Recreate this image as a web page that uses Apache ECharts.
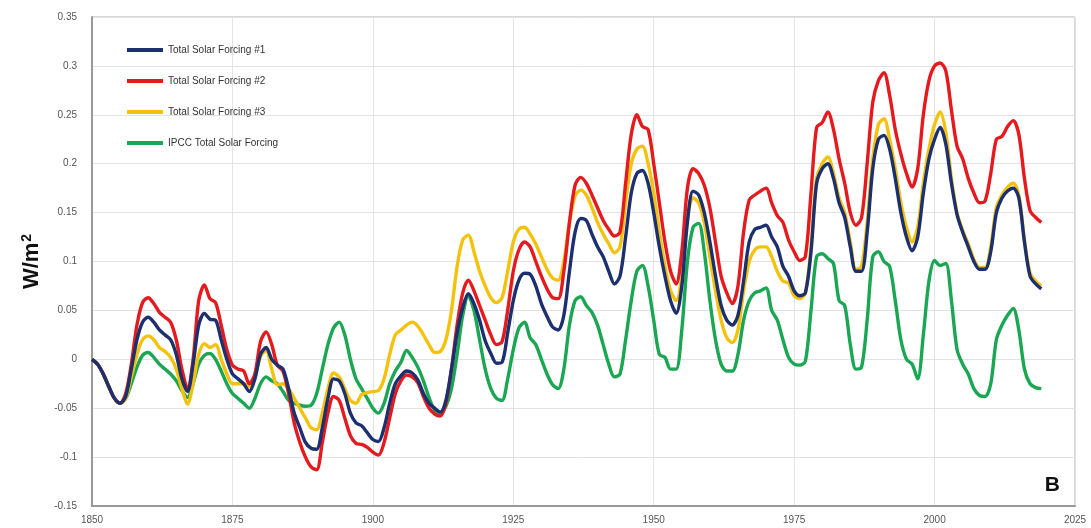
<!DOCTYPE html>
<html>
<head>
<meta charset="utf-8">
<script src="https://cdn.jsdelivr.net/npm/echarts@6/dist/echarts.min.js"></script>
<style>
  html, body { margin: 0; padding: 0; background: #fff; }
  #chart { width: 1091px; height: 528px; }
</style>
</head>
<body>
<div id="chart"></div>
<script>
// annual values 1850 .. 2019 (W/m2)
const startYear = 1850

const tsf1 = [
  0.000, -0.005, -0.015, -0.028, -0.040, -0.045, -0.038, -0.010, 0.020, 0.038,
  0.043, 0.038, 0.030, 0.025, 0.020, 0.005, -0.020, -0.033, -0.005, 0.035,
  0.047, 0.041, 0.040, 0.020, 0.000, -0.015, -0.020, -0.025, -0.033, -0.020,
  0.005, 0.012, 0.000, -0.006, -0.010, -0.030, -0.055, -0.070, -0.085, -0.091,
  -0.092, -0.070, -0.040, -0.020, -0.022, -0.035, -0.055, -0.065, -0.068, -0.075,
  -0.082, -0.084, -0.070, -0.045, -0.025, -0.017, -0.012, -0.014, -0.021, -0.035,
  -0.045, -0.050, -0.054, -0.042, -0.010, 0.027, 0.053, 0.067, 0.057, 0.040,
  0.019, 0.006, -0.004, -0.003, 0.027, 0.060, 0.081, 0.088, 0.087, 0.075,
  0.057, 0.044, 0.033, 0.030, 0.045, 0.090, 0.130, 0.144, 0.142, 0.128,
  0.115, 0.105, 0.090, 0.077, 0.085, 0.125, 0.170, 0.190, 0.193, 0.180,
  0.150, 0.115, 0.085, 0.060, 0.047, 0.075, 0.140, 0.172, 0.168, 0.150,
  0.120, 0.085, 0.055, 0.040, 0.035, 0.045, 0.080, 0.120, 0.133, 0.135,
  0.137, 0.125, 0.115, 0.095, 0.085, 0.070, 0.065, 0.068, 0.110, 0.180,
  0.195, 0.200, 0.185, 0.160, 0.145, 0.115, 0.090, 0.090, 0.130, 0.195,
  0.225, 0.229, 0.215, 0.185, 0.150, 0.125, 0.111, 0.125, 0.170, 0.205,
  0.225, 0.237, 0.220, 0.180, 0.148, 0.130, 0.115, 0.100, 0.092, 0.092,
  0.110, 0.150, 0.165, 0.172, 0.175, 0.165, 0.120, 0.085, 0.077, 0.072
]

const tsf2 = [
  0.000, -0.005, -0.015, -0.028, -0.040, -0.045, -0.035, -0.005, 0.035, 0.058,
  0.063, 0.057, 0.048, 0.043, 0.038, 0.020, -0.010, -0.030, 0.000, 0.060,
  0.076, 0.062, 0.058, 0.035, 0.010, -0.006, -0.010, -0.012, -0.025, -0.015,
  0.018, 0.028, 0.015, -0.006, -0.012, -0.035, -0.065, -0.085, -0.100, -0.110,
  -0.113, -0.085, -0.055, -0.038, -0.042, -0.060, -0.078, -0.086, -0.087, -0.090,
  -0.095, -0.098, -0.085, -0.060, -0.035, -0.022, -0.016, -0.018, -0.024, -0.038,
  -0.050, -0.056, -0.058, -0.045, -0.010, 0.035, 0.068, 0.081, 0.070, 0.055,
  0.040, 0.025, 0.015, 0.018, 0.050, 0.090, 0.112, 0.120, 0.115, 0.100,
  0.085, 0.072, 0.063, 0.062, 0.090, 0.140, 0.178, 0.186, 0.180, 0.168,
  0.155, 0.142, 0.133, 0.126, 0.130, 0.180, 0.230, 0.250, 0.238, 0.235,
  0.200, 0.160, 0.120, 0.090, 0.077, 0.110, 0.175, 0.195, 0.190, 0.178,
  0.155, 0.120, 0.085, 0.068, 0.057, 0.075, 0.130, 0.163, 0.168, 0.172,
  0.175, 0.160, 0.147, 0.140, 0.122, 0.110, 0.101, 0.105, 0.170, 0.237,
  0.242, 0.253, 0.235, 0.205, 0.180, 0.150, 0.137, 0.145, 0.200, 0.263,
  0.285, 0.293, 0.270, 0.235, 0.210, 0.190, 0.176, 0.195, 0.250, 0.285,
  0.300, 0.303, 0.295, 0.255, 0.218, 0.205, 0.185, 0.170, 0.160, 0.162,
  0.190, 0.225, 0.228, 0.238, 0.244, 0.230, 0.185, 0.152, 0.145, 0.140
]

const tsf3 = [
  0.000, -0.005, -0.015, -0.028, -0.040, -0.045, -0.040, -0.018, 0.005, 0.020,
  0.024, 0.020, 0.012, 0.008, 0.002, -0.010, -0.030, -0.046, -0.025, 0.005,
  0.016, 0.012, 0.015, 0.000, -0.015, -0.025, -0.025, -0.025, -0.028, -0.018,
  0.003, 0.009, -0.010, -0.026, -0.025, -0.030, -0.040, -0.050, -0.060, -0.070,
  -0.072, -0.055, -0.030, -0.014, -0.018, -0.030, -0.042, -0.045, -0.036, -0.034,
  -0.033, -0.032, -0.020, 0.005, 0.025, 0.030, 0.035, 0.038, 0.034, 0.025,
  0.015, 0.007, 0.008, 0.020, 0.050, 0.095, 0.122, 0.127, 0.110, 0.090,
  0.075, 0.063, 0.058, 0.063, 0.090, 0.120, 0.133, 0.135, 0.128, 0.118,
  0.105, 0.092, 0.083, 0.081, 0.100, 0.140, 0.167, 0.173, 0.168, 0.155,
  0.140, 0.128, 0.118, 0.109, 0.115, 0.160, 0.200, 0.215, 0.218, 0.200,
  0.170, 0.130, 0.095, 0.070, 0.060, 0.085, 0.145, 0.165, 0.160, 0.140,
  0.105, 0.070, 0.040, 0.022, 0.017, 0.030, 0.070, 0.100, 0.112, 0.115,
  0.115, 0.105, 0.090, 0.080, 0.078, 0.065, 0.062, 0.068, 0.115, 0.185,
  0.200, 0.207, 0.190, 0.165, 0.150, 0.120, 0.092, 0.095, 0.140, 0.205,
  0.240, 0.246, 0.225, 0.195, 0.160, 0.135, 0.120, 0.135, 0.180, 0.215,
  0.240, 0.253, 0.232, 0.185, 0.150, 0.132, 0.118, 0.102, 0.094, 0.094,
  0.115, 0.155, 0.168, 0.176, 0.180, 0.168, 0.122, 0.088, 0.080, 0.075
]

const ipcc = [
  0.000, -0.005, -0.015, -0.028, -0.040, -0.045, -0.040, -0.025, -0.008, 0.004,
  0.007, 0.002, -0.005, -0.010, -0.015, -0.022, -0.032, -0.039, -0.025, -0.005,
  0.004, 0.006, 0.000, -0.012, -0.025, -0.035, -0.040, -0.045, -0.050, -0.040,
  -0.025, -0.018, -0.022, -0.025, -0.033, -0.042, -0.045, -0.047, -0.048, -0.047,
  -0.035, -0.010, 0.015, 0.032, 0.038, 0.025, 0.000, -0.020, -0.030, -0.040,
  -0.050, -0.055, -0.045, -0.025, -0.012, -0.003, 0.009, 0.002, -0.008, -0.022,
  -0.039, -0.052, -0.055, -0.048, -0.030, 0.005, 0.045, 0.065, 0.050, 0.020,
  -0.010, -0.030, -0.040, -0.042, -0.020, 0.010, 0.032, 0.038, 0.022, 0.015,
  0.000, -0.015, -0.026, -0.030, -0.010, 0.035, 0.060, 0.064, 0.055, 0.048,
  0.035, 0.015, -0.005, -0.018, -0.015, 0.020, 0.060, 0.090, 0.096, 0.075,
  0.040, 0.005, 0.002, -0.010, -0.010, 0.030, 0.100, 0.135, 0.139, 0.110,
  0.060, 0.020, -0.005, -0.012, -0.012, 0.005, 0.040, 0.060, 0.068, 0.070,
  0.073, 0.050, 0.040, 0.020, 0.002, -0.005, -0.006, -0.002, 0.050, 0.105,
  0.108, 0.103, 0.098, 0.060, 0.055, 0.015, -0.010, -0.008, 0.040, 0.105,
  0.110, 0.100, 0.095, 0.060, 0.020, 0.000, -0.005, -0.020, 0.025, 0.080,
  0.101, 0.096, 0.098, 0.060, 0.010, -0.005, -0.015, -0.030, -0.037, -0.038,
  -0.025, 0.020, 0.035, 0.045, 0.052, 0.030, -0.010, -0.025, -0.029, -0.030
]

const xTicks = [1850, 1875, 1900, 1925, 1950, 1975, 2000, 2025]
const yTicks = [-0.15, -0.1, -0.05, 0, 0.05, 0.1, 0.15, 0.2, 0.25, 0.3, 0.35]

function pairs(vals) {
  return vals.map((v, i) => [startYear + i, v])
}

const chart = echarts.init(document.getElementById('chart'))

function lineSeries(name, vals, color, z) {
  return {
    name: name,
    type: 'line',
    data: pairs(vals),
    smooth: 0.3,
    showSymbol: false,
    z: z,
    lineStyle: { color: color, width: 3.4 },
    itemStyle: { color: color }
  }
}

chart.setOption({
  backgroundColor: '#fff',
  animation: false,
  grid: {
    left: 92,
    right: 16,
    top: 17,
    bottom: 22,
    show: true,
    borderColor: '#b0b0b0',
    borderWidth: 1
  },
  legend: {
    orient: 'vertical',
    left: 122,
    top: 40,
    itemWidth: 36,
    itemHeight: 4,
    itemGap: 21,
    icon: 'rect',
    data: ['Total Solar Forcing #1', 'Total Solar Forcing #2', 'Total Solar Forcing #3', 'IPCC Total Solar Forcing'],
    textStyle: { fontFamily: 'Liberation Sans', fontSize: 10, color: '#333' }
  },
  xAxis: {
    type: 'value',
    min: xTicks[0],
    max: xTicks[xTicks.length - 1],
    interval: 25,
    axisLine: { show: true, onZero: false, lineStyle: { color: '#999', width: 2 } },
    axisTick: { show: false },
    axisLabel: {
      color: '#555',
      fontFamily: 'Liberation Sans',
      fontSize: 10,
      margin: 9,
      formatter: v => String(v)
    },
    splitLine: { show: true, lineStyle: { color: '#e3e3e3', width: 1 } }
  },
  yAxis: {
    type: 'value',
    min: yTicks[0],
    max: yTicks[yTicks.length - 1],
    interval: 0.05,
    name: '{a|W/m}{b|2}',
    nameLocation: 'middle',
    nameGap: 47,
    nameRotate: 90,
    nameTextStyle: {
      rich: {
        a: { fontFamily: 'Liberation Sans', fontWeight: 'bold', fontSize: 22, color: '#111' },
        b: { fontFamily: 'Liberation Sans', fontWeight: 'bold', fontSize: 14, color: '#111', verticalAlign: 'top', padding: [0, 0, 10, 1] }
      }
    },
    axisLine: { show: true, lineStyle: { color: '#999', width: 2 } },
    axisTick: { show: false },
    axisLabel: {
      color: '#555',
      fontFamily: 'Liberation Sans',
      fontSize: 10,
      margin: 15,
      formatter: v => String(parseFloat(v.toFixed(2)))
    },
    splitLine: { show: true, lineStyle: { color: '#e3e3e3', width: 1 } }
  },
  graphic: [
    {
      type: 'text',
      right: 31,
      bottom: 32,
      style: { text: 'B', fontFamily: 'Liberation Sans', fontWeight: 'bold', fontSize: 21, fill: '#111' }
    }
  ],
  series: [
    lineSeries('IPCC Total Solar Forcing', ipcc, '#1aa653', 2),
    lineSeries('Total Solar Forcing #3', tsf3, '#f4c20d', 3),
    lineSeries('Total Solar Forcing #2', tsf2, '#e51a1e', 4),
    lineSeries('Total Solar Forcing #1', tsf1, '#1c2f6e', 5)
  ]
})
</script>
</body>
</html>
